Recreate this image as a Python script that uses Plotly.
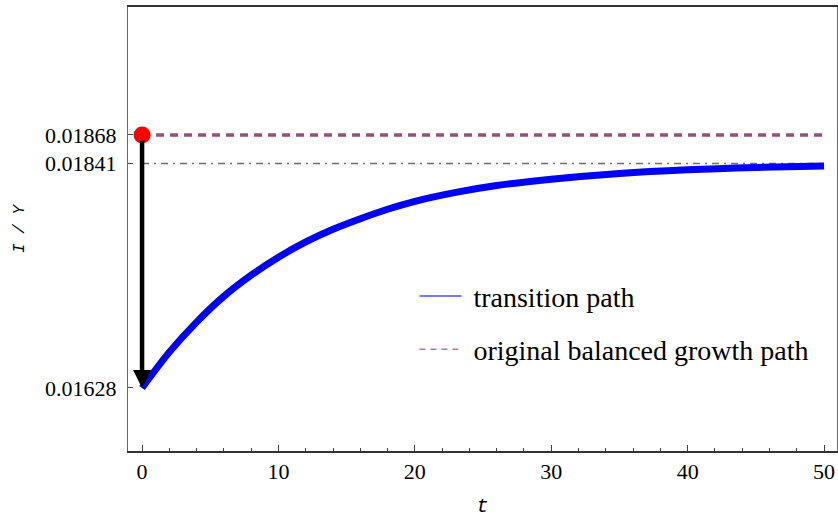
import plotly.graph_objects as go

# data
t_path = [0, 2, 4, 6, 8, 10, 12, 14, 16, 18, 20, 23, 26, 30, 35, 40, 45, 50]
iy_path = [0.01628, 0.01662, 0.016905, 0.01715, 0.01735, 0.01752, 0.017665, 0.017785,
           0.017885, 0.017975, 0.01805, 0.018135, 0.0182, 0.01826, 0.018315, 0.01835,
           0.018372, 0.018386]
t_range = [0, 50]
iy_original = 0.01868
iy_new = 0.01841
ytick_vals = [0.01628, 0.01841, 0.01868]
ytick_text = ["0.01628", "0.01841", "0.01868"]
xtick_vals = [0, 10, 20, 30, 40, 50]

blue = "#0000ff"
purple = "#984f80"
serif = "Liberation Serif"
mono = "Liberation Mono"

fig = go.Figure()

# new balanced growth path (dash-dot)
fig.add_trace(go.Scatter(x=t_range, y=[iy_new, iy_new], mode="lines",
                         line=dict(color="#6e6e6e", width=1.5, dash="7px,5px,2px,5px"),
                         showlegend=False, hoverinfo="skip"))
# original balanced growth path
fig.add_trace(go.Scatter(x=t_range, y=[iy_original, iy_original], mode="lines",
                         line=dict(color=purple, width=3.5, dash="8px,6px"),
                         showlegend=False))
# transition path
fig.add_trace(go.Scatter(x=t_path, y=iy_path, mode="lines",
                         line=dict(color=blue, width=7, shape="spline", smoothing=1),
                         showlegend=False))
# red dot
fig.add_trace(go.Scatter(x=[t_range[0]], y=[iy_original], mode="markers",
                         marker=dict(color="#ff0000", size=17),
                         showlegend=False))

# legend entries (thin samples like the reference)
fig.add_trace(go.Scatter(x=[None], y=[None], mode="lines", name="\u00a0transition path",
                         line=dict(color="#4a4aff", width=1.5), legendgroup="a"))
fig.add_trace(go.Scatter(x=[None], y=[None], mode="lines",
                         name="\u00a0original balanced growth path",
                         line=dict(color="#b07a9c", width=1.5, dash="6px,5px"), legendgroup="b"))

# the jump arrow
fig.add_annotation(x=t_path[0], y=iy_path[0], ax=t_path[0], ay=iy_original,
                   xref="x", yref="y", axref="x", ayref="y",
                   showarrow=True, arrowhead=2, arrowsize=0.8, arrowwidth=4.5,
                   arrowcolor="black", startstandoff=4, text="")

fig.update_layout(
    width=838, height=518,
    margin=dict(l=128, r=1, t=7, b=67),
    paper_bgcolor="white", plot_bgcolor="white",
    font=dict(family=serif, size=22, color="black"),
    showlegend=True,
    legend=dict(x=0.404, y=0.405, xanchor="left", yanchor="top",
                bgcolor="rgba(0,0,0,0)", font=dict(family=serif, size=28),
                itemwidth=42, tracegroupgap=14),
    xaxis=dict(range=[-1.03, 50.95], tickvals=xtick_vals, ticks="inside", ticklen=6,
               tickcolor="#444", showline=True, mirror=True, linecolor="#333", linewidth=1.5,
               showgrid=False, zeroline=False,
               minor=dict(dtick=2, ticks="inside", ticklen=3, tickcolor="#444"),
               tickfont=dict(family=serif, size=22),
               title=dict(text="t", font=dict(family=mono, size=20, style="italic"), standoff=18)),
    yaxis=dict(range=[0.015682, 0.019894], tickvals=ytick_vals, ticktext=ytick_text,
               ticks="inside", ticklen=5, tickcolor="#444",
               showline=True, mirror=True, linecolor="#666", linewidth=1,
               showgrid=False, zeroline=False, ticklabelstandoff=6,
               tickfont=dict(family=serif, size=22),
               title=dict(text="I / Y", font=dict(family=mono, size=16, style="italic"), standoff=16)),
)

fig.write_html("out.html")
